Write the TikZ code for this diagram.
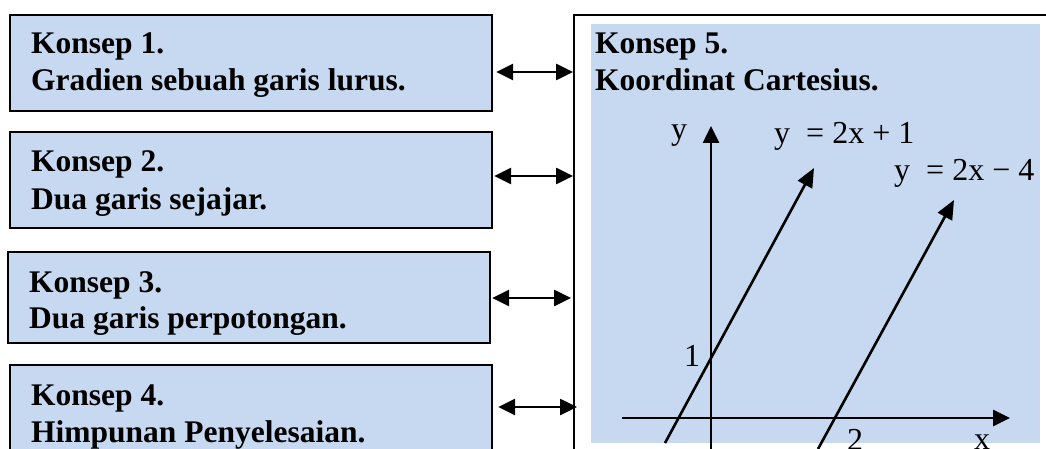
\documentclass[tikz,border=0pt]{standalone}
\usepackage{fontspec}
\setmainfont{Liberation Serif}
\usetikzlibrary{arrows.meta}
\definecolor{boxblue}{RGB}{198,217,240}
\begin{document}
\begin{tikzpicture}[x=1pt,y=-1pt,
  cbox/.style={draw=black, line width=2.2pt, fill=boxblue, anchor=north west, inner sep=0pt, minimum width=482pt, minimum height=96pt},
  ctext/.style={anchor=base west, inner sep=0pt, font=\fontsize{31.5}{36}\selectfont\bfseries},
  lbl/.style={inner sep=0pt, font=\fontsize{32}{38}\selectfont},
  dbl/.style={line width=2.6pt, {Triangle[length=17pt,width=16pt]}-{Triangle[length=17pt,width=16pt]}},
  axis/.style={line width=2.6pt, -{Triangle[length=17pt,width=16pt]}},
  gline/.style={line width=2.6pt, -{Triangle[length=19pt,width=16pt]}}
]
\useasboundingbox (0,0) rectangle (1046,449);
\clip (0,0) rectangle (1046,449);
% left boxes
\node[cbox] (k1) at (9,14) {};
\node[cbox, minimum height=96pt] (k2) at (9,131) {};
\node[cbox, minimum height=91pt] (k3) at (7,251) {};
\node[cbox, minimum height=120pt] (k4) at (9,364) {};
\node[ctext] (t1a) at (31,54) {Konsep 1.};
\node[ctext] (t1b) at (31,91) {Gradien sebuah garis lurus.};
\node[ctext] (t2a) at (31,172) {Konsep 2.};
\node[ctext] (t2b) at (31,209) {Dua garis sejajar.};
\node[ctext] (t3a) at (29,292) {Konsep 3.};
\node[ctext] (t3b) at (29,328) {Dua garis perpotongan.};
\node[ctext] (t4a) at (31,405) {Konsep 4.};
\node[ctext] (t4b) at (31,442) {Himpunan Penyelesaian.};
% right box
\node[draw=black, line width=1.8pt, fill=white, anchor=north west, inner sep=0pt, minimum width=560pt, minimum height=500pt] (k5) at (573,14) {};
\node[fill=boxblue, anchor=north west, inner sep=0pt, minimum width=449pt, minimum height=419pt] (k5in) at (591,24) {};
\node[ctext] (t5a) at (595,54) {Konsep 5.};
\node[ctext] (t5b) at (595,91) {Koordinat Cartesius.};
% connectors
\draw[dbl] ([xshift=3pt]k1.east |- 0,72) -- (k5.west |- 0,72);
\draw[dbl] ([xshift=1pt]k2.east |- 0,176) -- (k5.west |- 0,176);
\draw[dbl] ([xshift=1pt]k3.east |- 0,298) -- ([xshift=-2pt]k5.west |- 0,298);
\draw[dbl] ([xshift=5pt]k4.east |- 0,407) -- ([xshift=4pt]k5.west |- 0,407);
% axes
\coordinate (ybot) at (711,460);
\coordinate (ytop) at (711,126);
\coordinate (xl) at (622,418);
\coordinate (xr) at (1010,418);
\draw[axis] (ybot) -- (ytop);
\draw[axis] (xl) -- (xr);
\coordinate (l1s) at (665,443);
\coordinate (l1e) at (814,168);
\coordinate (l2s) at (818,449);
\coordinate (l2e) at (954,200);
\draw[gline] (l1s) -- (l1e);
\draw[gline] (l2s) -- (l2e);
\node[lbl] (ly) at (679,136) {y};
\node[lbl, anchor=west] (eq1) at (774,136) {y\ \ = 2x + 1};
\node[lbl, anchor=west] (eq2) at (894,173) {y\ \ = 2x − 4};
\node[lbl] (n1) at (692,356) {1};
\node[lbl] (n2) at (855,440) {2};
\node[lbl] (nx) at (982,442) {x};
\end{tikzpicture}
\end{document}
